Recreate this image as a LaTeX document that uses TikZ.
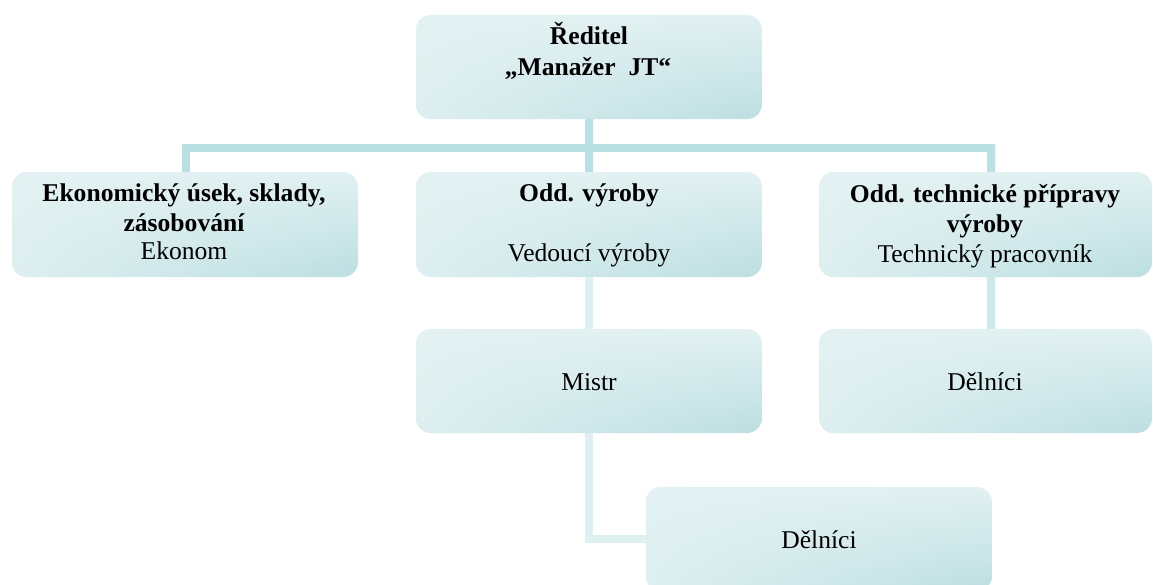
\documentclass[tikz,border=0pt]{standalone}
\usepackage{fontspec}
\setmainfont{Liberation Serif}
\usetikzlibrary{fadings}

\definecolor{boxtop}{HTML}{E2F1F2}
\definecolor{boxbot}{HTML}{BCDFE2}
\definecolor{boxlite}{HTML}{E4F2F3}
\definecolor{linkmain}{HTML}{B9E0E3}
\definecolor{linkright}{HTML}{CFE8EA}
\definecolor{linksoft}{HTML}{DFF0F1}

% light wash that fades out towards the right edge of a box
\tikzfading[name=fadeleft, left color=transparent!0, right color=transparent!100]

\begin{document}
\begin{tikzpicture}[x=0.75pt, y=-0.75pt,
  orgbox/.style={rounded corners=11.25pt, minimum width=259.5pt,
    minimum height=78pt, inner sep=0pt, draw=none,
    top color=boxtop, bottom color=boxbot,
    postaction={fill=boxlite, path fading=fadeleft, fill opacity=0.85}},
  narrowbox/.style={orgbox, minimum width=249.75pt},
  headtxt/.style={anchor=base, inner sep=0pt,
    font=\fontsize{19.2pt}{22pt}\selectfont\bfseries},
  roletxt/.style={anchor=base, inner sep=0pt,
    font=\fontsize{19.2pt}{22pt}\selectfont},
  mainlink/.style={draw=linkmain, line width=6pt},
  rightlink/.style={draw=linkright, line width=6pt},
  softlink/.style={draw=linksoft, line width=6pt}]

\clip (0,0) rectangle (1153,585);
\useasboundingbox (0,0) rectangle (1153,585);

% boxes
\node[orgbox] (boss) at (589,67) {};
\node[orgbox, minimum height=78.75pt] (econ) at (185,224.5) {};
\node[orgbox, minimum height=78.75pt] (prod) at (589,224.5) {};
\node[narrowbox, minimum height=78.75pt] (tech) at (985.5,224.5) {};
\node[orgbox] (master) at (589,381) {};
\node[narrowbox] (workT) at (985.5,381) {};
\node[orgbox] (workP) at (819,539) {};

% connectors
\coordinate (busL) at (186,148);
\coordinate (busR) at (991,148);
\draw[mainlink] (boss.south) -- (boss.south |- busL);
\draw[mainlink, line cap=rect] (busL) -- (busR);
\draw[mainlink] (busL) -- (busL |- econ.north);
\draw[mainlink] (boss.south |- busL) -- (prod.north);
\draw[mainlink] (busR) -- (busR |- tech.north);
\draw[softlink] (prod.south) -- (master.north);
\draw[rightlink] (busR |- tech.south) -- (busR |- workT.north);
\draw[softlink] (master.south) |- (workP.west);

% texts
\node[headtxt] (bossA) at (589,45) {Ředitel};
\node[headtxt] (bossB) at (588,76) {„Manažer\ \ JT“};

\node[headtxt] (econA) at (184,201) {Ekonomický úsek, sklady,};
\node[headtxt] (econB) at (184,231) {zásobování};
\node[roletxt] (econC) at (184,259) {Ekonom};

\node[headtxt] (prodA) at (589,201) {Odd. výroby};
\node[roletxt] (prodB) at (589,261) {Vedoucí výroby};

\node[headtxt] (techA) at (985,202) {Odd. technické přípravy};
\node[headtxt] (techB) at (985,232) {výroby};
\node[roletxt] (techC) at (985,262) {Technický pracovník};

\node[roletxt] (masterA) at (589,390) {Mistr};
\node[roletxt] (workTA) at (985,390) {Dělníci};
\node[roletxt] (workPA) at (819,548) {Dělníci};
\end{tikzpicture}
\end{document}
